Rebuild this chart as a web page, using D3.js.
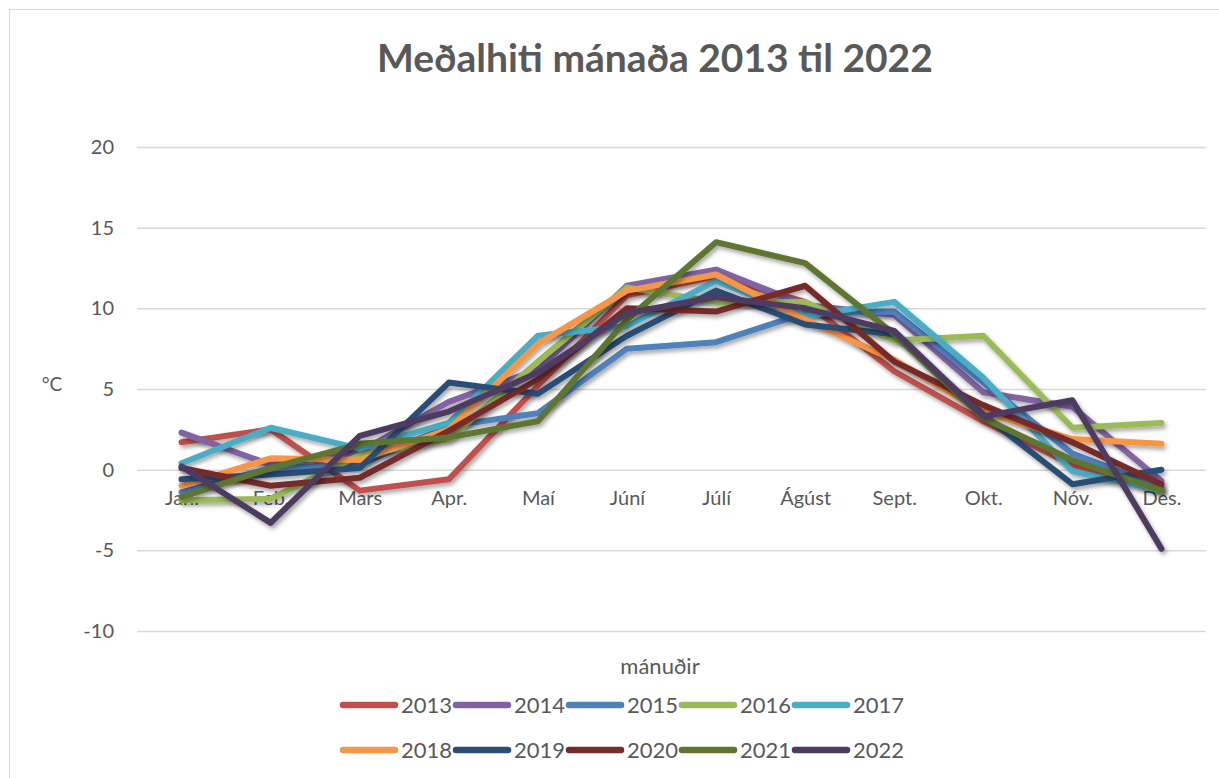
<!DOCTYPE html>
<html>
<head>
<meta charset="utf-8">
<script src="https://cdn.jsdelivr.net/npm/d3@7"></script>
<style>
  body { margin: 0; background: #fff; }
  text { font-family: Lato, "Open Sans", sans-serif; fill: #595959; }
</style>
</head>
<body>
<div id="container"></div>
<script>
// Chart data
var months = ["Jan.", "Feb.", "Mars", "Apr.", "Maí", "Júní", "Júlí", "Ágúst", "Sept.", "Okt.", "Nóv.", "Des."];
var years = ["2013", "2014", "2015", "2016", "2017", "2018", "2019", "2020", "2021", "2022"];
var y2013 = [1.7, 2.5, -1.3, -0.6, 5.2, 10.8, 12.0, 10.4, 6.1, 3.0, 0.3, -1.2];
var y2014 = [2.3, 0.3, 1.1, 4.2, 6.2, 11.4, 12.4, 10.2, 9.6, 4.8, 3.9, -0.7];
var y2015 = [-1.4, 0.1, 0.3, 2.7, 3.5, 7.5, 7.9, 9.7, 9.8, 5.4, 1.0, -1.1];
var y2016 = [-1.9, -1.8, 0.9, 1.9, 6.7, 11.3, 10.4, 10.4, 8.0, 8.3, 2.6, 2.9];
var y2017 = [0.4, 2.6, 1.3, 2.9, 8.3, 8.9, 11.7, 9.5, 10.4, 5.7, -0.1, -1.3];
var y2018 = [-1.0, 0.7, 0.6, 2.5, 7.8, 11.1, 12.1, 9.3, 6.8, 3.6, 1.9, 1.6];
var y2019 = [-0.6, -0.3, 0.1, 5.4, 4.7, 8.3, 11.1, 9.0, 8.4, 3.4, -0.9, 0.0];
var y2020 = [0.1, -1.0, -0.5, 2.4, 5.6, 10.0, 9.8, 11.4, 6.7, 4.0, 1.7, -0.9];
var y2021 = [-1.7, 0.1, 1.6, 2.0, 3.0, 9.3, 14.1, 12.8, 8.4, 3.2, 0.6, -1.3];
var y2022 = [0.2, -3.3, 2.1, 3.6, 6.0, 9.7, 10.7, 10.0, 8.6, 3.3, 4.3, -4.9];
var values = [y2013, y2014, y2015, y2016, y2017, y2018, y2019, y2020, y2021, y2022];
var yTicks = [-10, -5, 0, 5, 10, 15, 20];
var colors = ["#C0504D", "#8064A2", "#4F81BD", "#9BBB59", "#4BACC6",
              "#F79646", "#2C4D75", "#772C2A", "#5F7530", "#4D3B62"];

var width = 1219,
    height = 778;

var svg = d3.select("#container")
    .append("svg")
    .attr("width", width)
    .attr("height", height);

// drop shadow like the spreadsheet lines
var filter = svg.append("defs").append("filter")
    .attr("id", "shadow")
    .attr("x", "-10%").attr("y", "-10%")
    .attr("width", "120%").attr("height", "130%");
filter.append("feDropShadow")
    .attr("dx", 2).attr("dy", 3)
    .attr("stdDeviation", 2)
    .attr("flood-color", "#000")
    .attr("flood-opacity", 0.35);

// outer chart border
svg.append("rect")
    .attr("x", 9.5).attr("y", 9.5)
    .attr("width", width).attr("height", height)
    .attr("fill", "none")
    .attr("stroke", "#d9d9d9");

var xScale = d3.scalePoint()
    .domain(months)
    .range([137, 1206])
    .padding(0.5);
var yScale = d3.scaleLinear()
    .domain([-10, 20])
    .range([631, 147]);

// title
svg.append("text")
    .attr("x", 655)
    .attr("y", 72)
    .attr("text-anchor", "middle")
    .style("font-size", "39px")
    .style("font-weight", "bold")
    .text("Meðalhiti mánaða 2013 til 2022");

// y gridlines and labels
var yAxis = svg.append("g")
    .attr("transform", "translate(137,0)")
    .call(d3.axisLeft(yScale)
        .tickValues(yTicks)
        .tickFormat(function(d) { return String(d); })
        .tickSize(-1069)
        .tickPadding(23));
yAxis.select(".domain").remove();
yAxis.selectAll("line").attr("stroke", "#d9d9d9").attr("stroke-width", 1.5);
yAxis.selectAll("text")
    .style("font-size", "20px")
    .style("font-family", "Lato, sans-serif")
    .attr("fill", "#595959");

// x labels
var xAxis = svg.append("g")
    .attr("transform", "translate(0," + yScale(0) + ")")
    .call(d3.axisBottom(xScale).tickSize(0).tickPadding(21));
xAxis.select(".domain").remove();
xAxis.selectAll("text")
    .style("font-size", "20px")
    .style("font-family", "Lato, sans-serif")
    .attr("fill", "#595959");

// axis titles
svg.append("text")
    .attr("x", 52)
    .attr("y", 391)
    .attr("text-anchor", "middle")
    .style("font-size", "19px")
    .text("°C");
svg.append("text")
    .attr("x", 660)
    .attr("y", 674)
    .attr("text-anchor", "middle")
    .style("font-size", "22px")
    .text("mánuðir");

// lines
var line = d3.line()
    .x(function(d, i) { return xScale(months[i]); })
    .y(function(d) { return yScale(d); });

svg.selectAll(".series")
    .data(values)
    .enter()
    .append("path")
    .attr("class", "series")
    .attr("d", line)
    .attr("fill", "none")
    .attr("stroke", function(d, i) { return colors[i]; })
    .attr("stroke-width", 6)
    .attr("stroke-linejoin", "round")
    .attr("stroke-linecap", "round")
    .attr("filter", "url(#shadow)");

// legend: two rows of five
var legend = svg.selectAll(".legend")
    .data(years)
    .enter()
    .append("g")
    .attr("class", "legend")
    .attr("transform", function(d, i) {
        return "translate(" + (343 + (i % 5) * 113) + "," + (705 + Math.floor(i / 5) * 45) + ")";
    });
legend.append("line")
    .attr("x1", 0).attr("x2", 52)
    .attr("stroke", function(d, i) { return colors[i]; })
    .attr("stroke-width", 6.5)
    .attr("stroke-linecap", "round");
legend.append("text")
    .attr("x", 58)
    .attr("y", 8)
    .style("font-size", "22px")
    .text(function(d) { return d; });
</script>
</body>
</html>
